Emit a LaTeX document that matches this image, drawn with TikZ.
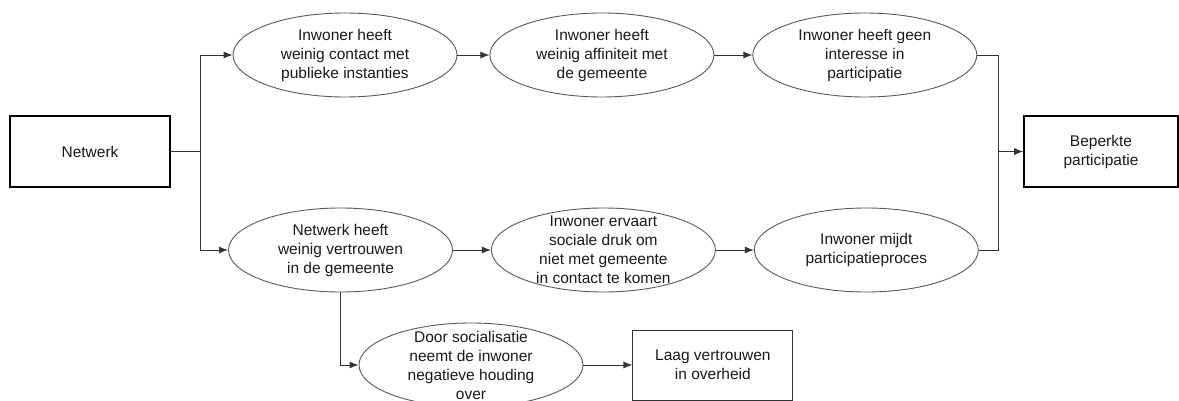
\documentclass[tikz,border=0pt]{standalone}
\usepackage{fontspec}
\setmainfont{Liberation Sans}
\usetikzlibrary{positioning,shapes.geometric,arrows.meta}

\begin{document}
\begin{tikzpicture}[x=1pt,y=-1pt,
  every node/.style={font=\fontsize{15.5}{19}\selectfont, text=black!90, align=center},
  stap/.style={ellipse, draw=black!65, line width=0.9pt, minimum width=224pt, minimum height=84pt, inner xsep=0pt, inner ysep=-10pt},
  blok/.style={rectangle, draw, line width=1.6pt, minimum height=71pt},
  uitkomst/.style={rectangle, draw=black!80, line width=0.9pt, minimum width=160pt, minimum height=70pt},
  lijn/.style={draw=black!80, line width=0.9pt},
  pijl/.style={lijn, -{Latex[length=9pt,width=7pt]}}]
  \useasboundingbox (0,0) rectangle (1179,401);
  \node[blok, minimum width=160pt] (netwerk) at (90,151.5) {Netwerk};
  \node[stap] (contact) at (345,55) {Inwoner heeft\\weinig contact met\\publieke instanties};
  \node[stap, right=32pt of contact] (affiniteit) {Inwoner heeft\\weinig affiniteit met\\de gemeente};
  \node[stap, right=38pt of affiniteit] (interesse) {Inwoner heeft geen\\interesse in\\participatie};
  \node[stap] (wantrouwen) at (340.5,250) {Netwerk heeft\\weinig vertrouwen\\in de gemeente};
  \node[stap, right=38pt of wantrouwen] (druk) {Inwoner ervaart\\sociale druk om\\niet met gemeente\\in contact te komen};
  \node[stap, right=38pt of druk] (mijden) {Inwoner mijdt\\participatieproces};
  \node[stap] (socialisatie) at (471,365) {Door socialisatie\\neemt de inwoner\\negatieve houding\\over};
  \node[uitkomst, right=49pt of socialisatie] (overheid) {Laag vertrouwen\\in overheid};
  \node[blok, minimum width=154pt] (beperkt) at (1101,151.5) {Beperkte\\participatie};
  \coordinate (splits) at (200,151.5);
  \coordinate (samen) at (998,151.5);
  \draw[lijn] (netwerk) -- (splits);
  \draw[pijl] (splits) |- (contact);
  \draw[pijl] (splits) |- (wantrouwen);
  \draw[pijl] (contact) -- (affiniteit);
  \draw[pijl] (affiniteit) -- (interesse);
  \draw[pijl] (wantrouwen) -- (druk);
  \draw[pijl] (druk) -- (mijden);
  \draw[lijn] (interesse) -| (samen);
  \draw[lijn] (mijden) -| (samen);
  \draw[pijl] (samen) -- (beperkt);
  \draw[pijl] (wantrouwen) |- (socialisatie);
  \draw[pijl] (socialisatie) -- (overheid);
\end{tikzpicture}
\end{document}
